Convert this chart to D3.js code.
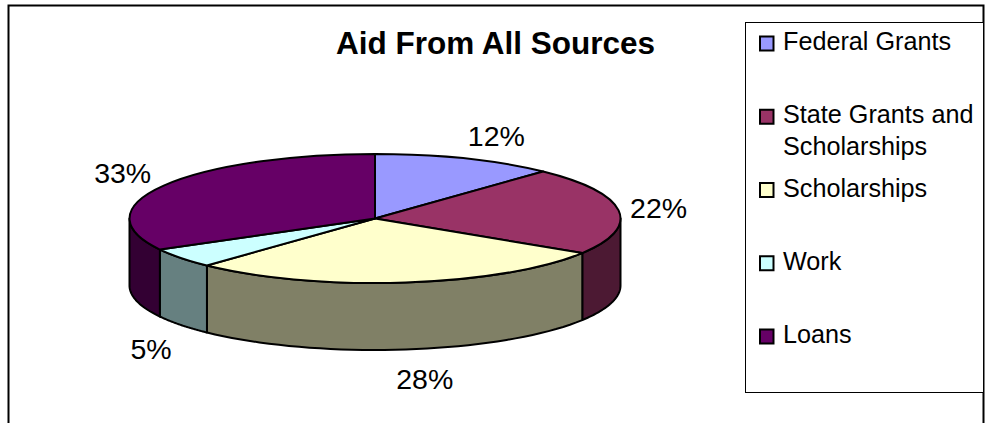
<!DOCTYPE html>
<html>
<head>
<meta charset="utf-8">
<title>Aid From All Sources</title>
<script src="https://cdn.jsdelivr.net/npm/d3@7"></script>
<style>
  html, body { margin: 0; padding: 0; background: #fff; }
  svg { display: block; }
  text { font-family: "Liberation Sans", Arial, sans-serif; fill: #000; }
</style>
</head>
<body>
<script>
// Chart data
const categories = ["Federal Grants", "State Grants and Scholarships", "Scholarships", "Work", "Loans"];
const values = [12, 22, 28, 5, 33];
const topColors = ["#9999ff", "#993366", "#ffffcc", "#ccffff", "#660066"];
const sideColors = ["#4c4c80", "#4c1933", "#808066", "#668080", "#330033"];
const legendLines = [["Federal Grants"], ["State Grants and", "Scholarships"], ["Scholarships"], ["Work"], ["Loans"]];

// Layout
const width = 985, height = 423;
const cx = 375, cy = 218.5, rx = 245.5, ry = 64.5, depth = 67;
// label nudges away from the rim, in slice order
const labelNudge = [[31, -12.5], [40, 8], [19, 107], [-30, 100.5], [-41, -3]];

const svg = d3.select("body").append("svg")
  .attr("width", width)
  .attr("height", height);

// Chart frame, open at the bottom as the picture is cropped there
svg.append("path")
  .attr("d", `M8.5,${height}V5.5H983.5V${height}`)
  .attr("fill", "none")
  .attr("stroke", "#000")
  .attr("stroke-width", 2);

svg.append("text")
  .attr("x", 495.5)
  .attr("y", 53.5)
  .attr("text-anchor", "middle")
  .attr("font-size", 31.5)
  .attr("font-weight", "bold")
  .text("Aid From All Sources");

// Slices
const pie = d3.pie().sort(null).value(d => d)
const slices = pie(values);

const rimX = a => cx + rx * Math.sin(a);
const rimY = a => cy - ry * Math.cos(a);

// Only the front half of the rim (90deg to 270deg) has a visible wall
const wallPath = d3.line().x(d => d[0]).y(d => d[1]);
function wall(s) {
  const a0 = Math.max(s.startAngle, Math.PI / 2);
  const a1 = Math.min(s.endAngle, Math.PI * 1.5);
  if (a1 <= a0) return null;
  const angles = d3.range(0, 41).map(i => a0 + (a1 - a0) * i / 40);
  const top = angles.map(a => [rimX(a), rimY(a)]);
  const bottom = angles.slice().reverse().map(a => [rimX(a), rimY(a) + depth]);
  return wallPath(top.concat(bottom)) + "Z";
}

svg.append("g")
  .selectAll("path")
  .data(slices.filter(s => wall(s)))
  .join("path")
  .attr("d", wall)
  .attr("fill", d => sideColors[d.index])
  .attr("stroke", "#000")
  .attr("stroke-width", 2)
  .attr("stroke-linejoin", "round");

const arc = d3.arc().innerRadius(0).outerRadius(1);

svg.append("g")
  .attr("transform", `translate(${cx},${cy}) scale(${rx},${ry})`)
  .selectAll("path")
  .data(slices)
  .join("path")
  .attr("d", arc)
  .attr("fill", d => topColors[d.index])
  .attr("stroke", "#000")
  .attr("stroke-width", 2)
  .attr("stroke-linejoin", "round")
  .attr("vector-effect", "non-scaling-stroke");

// Percent labels
svg.append("g")
  .selectAll("text")
  .data(slices)
  .join("text")
  .attr("x", d => rimX((d.startAngle + d.endAngle) / 2) + labelNudge[d.index][0])
  .attr("y", d => rimY((d.startAngle + d.endAngle) / 2) + labelNudge[d.index][1])
  .attr("text-anchor", "middle")
  .attr("font-size", 28.5)
  .text(d => d.value + "%");

// Legend
svg.append("rect")
  .attr("x", 745.5)
  .attr("y", 22.5)
  .attr("width", 238)
  .attr("height", 370)
  .attr("fill", "#fff")
  .attr("stroke", "#000");

const legendY = d3.scalePoint().domain(categories).range([43.5, 336.5]);

const item = svg.append("g")
  .selectAll("g")
  .data(categories)
  .join("g")
  .attr("transform", d => `translate(760,${legendY(d)})`);

item.append("rect")
  .attr("x", 0)
  .attr("y", -7)
  .attr("width", 13.5)
  .attr("height", 14)
  .attr("fill", (d, i) => topColors[i])
  .attr("stroke", "#000")
  .attr("stroke-width", 2);

item.selectAll("text")
  .data((d, i) => legendLines[i])
  .join("text")
  .attr("x", 23)
  .attr("y", (d, i) => 6.5 + i * 32)
  .attr("font-size", 25.2)
  .text(d => d);
</script>
</body>
</html>
